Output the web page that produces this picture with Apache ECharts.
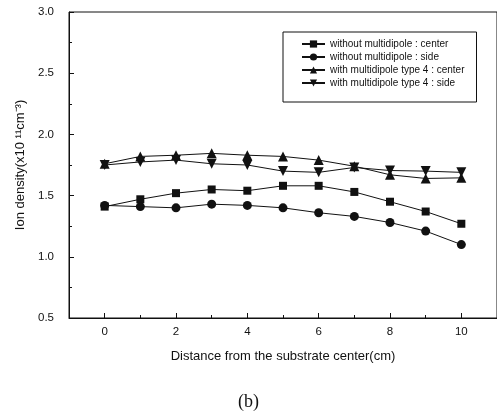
<!DOCTYPE html>
<html>
<head>
<meta charset="utf-8">
<script src="https://cdn.jsdelivr.net/npm/echarts@6/dist/echarts.min.js"></script>
<style>
html,body{margin:0;padding:0;background:#fff;}
#c{width:497px;height:416px;}
</style>
</head>
<body>
<div id="c"></div>
<script>
const xValues = [0,1,2,3,4,5,6,7,8,9,10];
const withoutCenter = [1.41,1.47,1.52,1.55,1.54,1.58,1.58,1.53,1.45,1.37,1.27];
const withoutSide   = [1.42,1.41,1.40,1.43,1.42,1.40,1.36,1.33,1.28,1.21,1.10];
const type4Center   = [1.76,1.82,1.83,1.845,1.83,1.82,1.79,1.74,1.67,1.64,1.645];
const type4Side     = [1.75,1.775,1.79,1.76,1.75,1.70,1.69,1.73,1.705,1.70,1.69];
const seriesNames = [
  'without multidipole : center',
  'without multidipole : side',
  'with multidipole type 4 : center',
  'with multidipole type 4 : side'
];
const xMajorTicks = [0,2,4,6,8,10];

function pairs(v){ return xValues.map((x,i)=>[x,v[i]]); }

const font = 'Liberation Sans, Arial, sans-serif';
const chart = echarts.init(document.getElementById('c'));
const mk = (name, data, symbol, size, rot) => ({
  name, type:'line', data: pairs(data), symbol, symbolSize:size, symbolRotate: rot||0,
  lineStyle:{color:'#111', width:1}, itemStyle:{color:'#111'}, animation:false
});
chart.setOption({
  backgroundColor:'#fff',
  animation:false,
  grid:{left:69, right:-2, top:12, bottom:98, show:true, borderColor:'#111', borderWidth:1},
  legend:{
    orient:'vertical', left:283, top:32,
    padding:[7,12,14,18], itemGap:3, itemWidth:23, itemHeight:9,
    borderColor:'#111', borderWidth:1, backgroundColor:'#fff',
    textStyle:{fontFamily:font, fontSize:10, color:'#111'},
    data: seriesNames
  },
  xAxis:{
    type:'value', min:-1, max:11,
    axisLine:{onZero:false, lineStyle:{color:'#111'}},
    axisTick:{inside:true, length:5, customValues: xMajorTicks, lineStyle:{color:'#111'}},
    minorTick:{show:true, splitNumber:2, length:3, lineStyle:{color:'#111'}},
    axisLabel:{customValues: xMajorTicks, fontFamily:font, fontSize:11.5, color:'#111', margin:8},
    splitLine:{show:false},
    name:'Distance from the substrate center(cm)', nameLocation:'middle', nameGap:32,
    nameTextStyle:{fontFamily:font, fontSize:13, color:'#111'}
  },
  yAxis:{
    type:'value', min:0.5, max:3.0, interval:0.5,
    axisLine:{show:true, onZero:false, lineStyle:{color:'#111'}},
    axisTick:{inside:true, length:5, lineStyle:{color:'#111'}},
    minorTick:{show:true, splitNumber:2, length:3, lineStyle:{color:'#111'}},
    axisLabel:{fontFamily:font, fontSize:11.5, color:'#111', margin:15, formatter:v=>v.toFixed(1)},
    splitLine:{show:false},
    name:'Ion density(x10 \u00b9\u00b9cm\u207b\u00b3)', nameLocation:'middle', nameGap:38,
    nameTextStyle:{fontFamily:font, fontSize:13, color:'#111'}
  },
  graphic:[{
    type:'text', left:'center', top:393,
    style:{text:'(b)', font:'18px "Liberation Serif", "DejaVu Serif", serif', fill:'#111'}
  }],
  series:[
    mk(seriesNames[0], withoutCenter, 'rect', 8),
    mk(seriesNames[1], withoutSide, 'circle', 9),
    mk(seriesNames[2], type4Center, 'triangle', 10),
    mk(seriesNames[3], type4Side, 'triangle', 10, 180)
  ]
});
</script>
</body>
</html>
